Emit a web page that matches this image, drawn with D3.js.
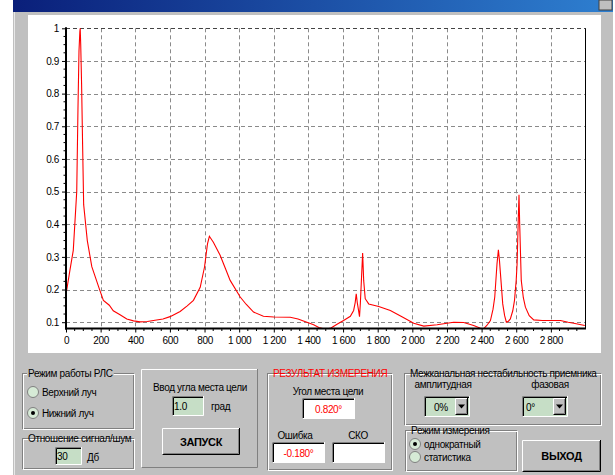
<!DOCTYPE html>
<html><head><meta charset="utf-8">
<script src="https://cdn.jsdelivr.net/npm/d3@7"></script>
<style>body{margin:0;background:#fff}svg text{font-family:"Liberation Sans",Arial,sans-serif;font-size:10px;fill:#000;letter-spacing:-0.35px}</style>
</head><body><svg id="c" width="615" height="475"></svg>
<script>
// ---- data ----
const xValues=[0,23,42,62,69,75,80,82,85,90,96,102,123,149,195,216,250,273,312,351,390,428,470,505,560,601,659,700,736,775,800,817,828,851,890,920,948,1006,1040,1083,1140,1200,1295,1340,1391,1430,1460,1500,1530,1570,1603,1642,1661,1670,1676,1682,1688,1695,1700,1705,1713,1719,1728,1748,1806,1873,1940,2008,2066,2143,2200,2239,2297,2354,2390,2410,2430,2451,2466,2476,2489,2497,2503,2509,2522,2533,2543,2555,2566,2580,2590,2600,2605,2612,2616,2620,2629,2641,2653,2675,2701,2750,2798,2855,2900,2932,2996];
const yValues=[0.185,0.26,0.32,0.50,0.75,0.93,0.99,1.0,0.95,0.83,0.64,0.46,0.35,0.27,0.198,0.167,0.152,0.135,0.123,0.11,0.104,0.101,0.102,0.105,0.11,0.117,0.133,0.15,0.167,0.207,0.269,0.34,0.363,0.345,0.305,0.265,0.228,0.177,0.155,0.131,0.118,0.116,0.115,0.11,0.10,0.092,0.084,0.078,0.082,0.095,0.105,0.118,0.136,0.16,0.187,0.16,0.141,0.117,0.16,0.218,0.312,0.228,0.172,0.156,0.148,0.136,0.117,0.097,0.088,0.092,0.097,0.100,0.099,0.09,0.082,0.079,0.09,0.105,0.14,0.177,0.279,0.322,0.29,0.248,0.156,0.12,0.10,0.103,0.11,0.135,0.167,0.23,0.279,0.42,0.49,0.40,0.228,0.175,0.146,0.12,0.107,0.105,0.105,0.105,0.1,0.097,0.09];
const xTicks=[0,200,400,600,800,1000,1200,1400,1600,1800,2000,2200,2400,2600,2800];
const yTicks=[0.1,0.2,0.3,0.4,0.5,0.6,0.7,0.8,0.9,1];

const svg=d3.select('#c');
const GRAY='#c0c0c0', DARK='#808080';
const FONT='"Liberation Sans",Arial,sans-serif';

// window
const grad=svg.append('defs').append('linearGradient').attr('id','tb');
grad.append('stop').attr('offset','0%').attr('stop-color','#0a1f7a');
grad.append('stop').attr('offset','100%').attr('stop-color','#2e7fd0');
svg.append('rect').attr('x',13).attr('y',12).attr('width',600).attr('height',463).attr('fill',GRAY);
svg.append('line').attr('x1',14.5).attr('x2',14.5).attr('y1',12).attr('y2',475).attr('stroke','#e8e8e8');
svg.append('rect').attr('x',13).attr('y',0).attr('width',600).attr('height',12).attr('fill','url(#tb)');
svg.append('rect').attr('x',599).attr('y',0).attr('width',13).attr('height',10).attr('fill',GRAY).attr('stroke','#404040');
svg.append('rect').attr('x',28).attr('y',15).attr('width',573).attr('height',338).attr('fill','#fff');

// plot
const L=66,R=585.5,T=28.3,B=328.5;
const x=d3.scaleLinear().domain([0,3000]).range([L,R]);
const y=d3.scaleLinear().domain([0.0807,1]).range([B,T]);
const plot=svg.append('g');
const gridStyle=s=>s.attr('stroke','#8a8a8a').attr('stroke-dasharray','4,3').attr('stroke-width',1);
xTicks.filter(d=>d>0).forEach(d=>gridStyle(plot.append('line').attr('x1',Math.round(x(d))+0.5).attr('x2',Math.round(x(d))+0.5).attr('y1',T).attr('y2',B)));
yTicks.forEach(d=>gridStyle(plot.append('line').attr('x1',L).attr('x2',R).attr('y1',Math.round(y(d))+0.5).attr('y2',Math.round(y(d))+0.5)).attr('stroke',d===1?'#444':'#8a8a8a'));

plot.append('defs').append('clipPath').attr('id','clp').append('rect').attr('x',L).attr('y',T-2).attr('width',R-L).attr('height',B-T+2);
const pts=xValues.map((v,i)=>[v,yValues[i]]);
plot.append('path').datum(pts).attr('clip-path','url(#clp)').attr('fill','none').attr('stroke','#ff0000').attr('stroke-width',1.1)
  .attr('d',d3.line().x(d=>x(d[0])).y(d=>y(d[1])));

// axes
const fmtX=d=>d>=1000?d3.format(',')(d).replace(',', ' '):String(d);
const xAxis=d3.axisBottom(x).tickValues(xTicks).tickFormat(fmtX).tickSize(4).tickPadding(4);
const gx=svg.append('g').attr('transform',`translate(0,${B})`).call(xAxis);
gx.select('.domain').remove();
gx.selectAll('text').style('font-family',FONT).style('font-size','10px').attr('fill','#000');
const xMinor=d3.range(50,3000,50).filter(d=>d%200!==0);
gx.selectAll('.mn').data(xMinor).join('line').attr('x1',d=>x(d)).attr('x2',d=>x(d)).attr('y1',0).attr('y2',2.5).attr('stroke','#000');
const yAxis=d3.axisLeft(y).tickValues(yTicks).tickFormat(d=>d===1?'1':d3.format('.1f')(d)).tickSize(4).tickPadding(3);
const gy=svg.append('g').attr('transform',`translate(${L},0)`).call(yAxis);
gy.select('.domain').remove();
gy.selectAll('text').style('font-family',FONT).style('font-size','10px').attr('fill','#000');
const yMinor=d3.range(0.125,1,0.025).filter(d=>Math.abs(d*10-Math.round(d*10))>0.01);
gy.selectAll('.mn').data(yMinor).join('line').attr('x1',0).attr('x2',-2.5).attr('y1',d=>y(d)).attr('y2',d=>y(d)).attr('stroke','#000');
svg.append('line').attr('x1',L).attr('x2',L).attr('y1',T-1).attr('y2',B+1).attr('stroke','#000').attr('stroke-width',2);
svg.append('line').attr('x1',L-1).attr('x2',R+0.5).attr('y1',B).attr('y2',B).attr('stroke','#000').attr('stroke-width',2);
svg.append('line').attr('x1',R).attr('x2',R).attr('y1',T).attr('y2',B).attr('stroke','#000').attr('stroke-width',1);

// ---- controls ----
const ui=svg.append('g');
function txt(x0,y0,s,opt={}){const t=ui.append('text').attr('x',x0).attr('y',y0).text(s);
 if(opt.anchor)t.attr('text-anchor',opt.anchor); if(opt.bold)t.style('font-weight','bold').style('font-size','11px');
 if(opt.color)t.attr('fill',opt.color).style('fill',opt.color); return t;}
function groupBox(x0,y0,w,h,title,color){
 ui.append('rect').attr('x',x0+0.5).attr('y',y0+0.5).attr('width',w).attr('height',h).attr('fill','none').attr('stroke',DARK);
 ui.append('rect').attr('x',x0+1.5).attr('y',y0+1.5).attr('width',w).attr('height',h).attr('fill','none').attr('stroke','#fff');
 const t=txt(x0+6,y0+4,title,{color:color});
 const bb=t.node().getBBox();
 ui.insert('rect','text').attr('x',bb.x-1).attr('y',y0-2).attr('width',bb.width+2).attr('height',6).attr('fill',GRAY);
}
function raised(x0,y0,w,h,strong){
 ui.append('rect').attr('x',x0).attr('y',y0).attr('width',w).attr('height',h).attr('fill',GRAY);
 ui.append('path').attr('d',`M${x0+0.5},${y0+h}V${y0+0.5}H${x0+w}`).attr('stroke','#fff').attr('fill','none');
 ui.append('path').attr('d',`M${x0+0.5},${y0+h-0.5}H${x0+w-0.5}V${y0}`).attr('stroke',strong?'#000':DARK).attr('fill','none');
 if(strong)ui.append('path').attr('d',`M${x0+1.5},${y0+h-1.5}H${x0+w-1.5}V${y0+1}`).attr('stroke',DARK).attr('fill','none');
}
function sunken(x0,y0,w,h,fill){
 ui.append('rect').attr('x',x0).attr('y',y0).attr('width',w).attr('height',h).attr('fill',fill);
 ui.append('path').attr('d',`M${x0+0.5},${y0+h}V${y0+0.5}H${x0+w}`).attr('stroke',DARK).attr('fill','none');
 ui.append('path').attr('d',`M${x0+1.5},${y0+h-1}V${y0+1.5}H${x0+w-1}`).attr('stroke','#000').attr('fill','none');
 ui.append('path').attr('d',`M${x0+0.5},${y0+h-0.5}H${x0+w-0.5}V${y0}`).attr('stroke','#fff').attr('fill','none');
}
function radio(cx,cy,on,label){
 ui.append('circle').attr('cx',cx).attr('cy',cy).attr('r',5.5).attr('fill','#d6ead6').attr('stroke',DARK);
 if(on)ui.append('circle').attr('cx',cx).attr('cy',cy).attr('r',2).attr('fill','#000');
 txt(cx+9,cy+4,label);
}
const GREEN='#c6dec6';

groupBox(22,373,111,55,'Режим работы РЛС');
radio(33,392,false,'Верхний луч');
radio(33,413,true,'Нижний луч');
groupBox(22,438,111,30,'Отношение сигнал/шум');
sunken(55,447,27,18,GREEN); txt(57,460,'30'); txt(87,461,'Дб');

raised(141,369,117,99,false);
txt(200,391,'Ввод угла места цели',{anchor:'middle'});
sunken(172,396,32,20,GREEN); txt(174,410,'1.0'); txt(211,410,'град');
raised(162,428,78,27,true); txt(201,446,'ЗАПУСК',{anchor:'middle',bold:true});

groupBox(267,373,124,96,'РЕЗУЛЬТАТ ИЗМЕРЕНИЯ','#ff0000');
txt(328,395,'Угол места цели',{anchor:'middle'});
sunken(302,398,53,21,'#fff'); txt(328.5,413,'0.820°',{anchor:'middle',color:'#ff0000'});
txt(295,439,'Ошибка',{anchor:'middle'}); txt(358,439,'СКО',{anchor:'middle'});
sunken(272,442,53,21,'#fff'); txt(298.5,457,'-0.180°',{anchor:'middle',color:'#ff0000'});
sunken(332,442,53,21,'#fff');

groupBox(404,373,196,51,'Межканальная нестабильность приемника');
txt(443,388,'амплитудная',{anchor:'middle'}); txt(550,388,'фазовая',{anchor:'middle'});
function combo(x0,y0,w,h,label,anchorX,anchor){
 sunken(x0,y0,w,h,GREEN);
 raised(x0+w-15,y0+2,13,h-4,true);
 ui.append('path').attr('d',`M${x0+w-12},${y0+h/2-2}h7l-3.5,4z`).attr('fill','#000');
 txt(anchorX,y0+15,label,{anchor:anchor});
}
combo(424,396,46,21,'0%',441,'middle');
combo(522,396,46,21,'0°',526);

groupBox(405,430,111,40,'Режим измерения');
radio(415,444,true,'однократный');
radio(415,457,false,'статистика');
raised(522,440,79,32,true); txt(561.5,460,'ВЫХОД',{anchor:'middle',bold:true});
</script></body></html>
